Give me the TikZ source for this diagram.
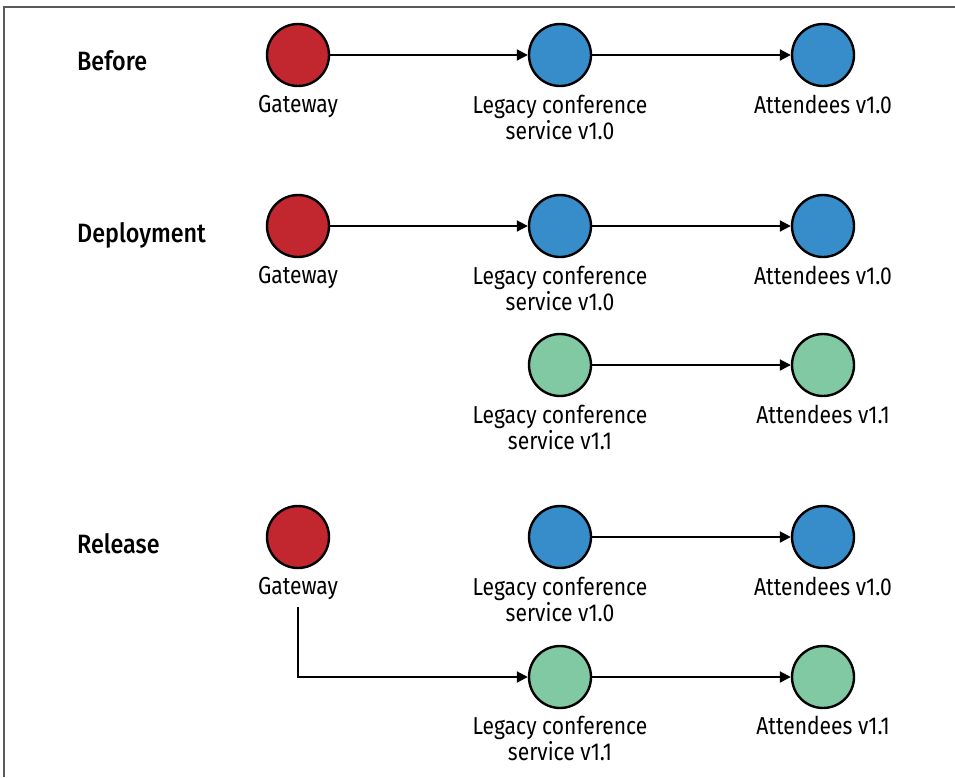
\documentclass[tikz,border=0pt]{standalone}
\usepackage{fontspec}
\setmainfont{Fira Sans}[FakeStretch=0.86]
\newfontfamily\headfont{Fira Sans Medium}[FakeStretch=0.88]
\usetikzlibrary{arrows.meta}
\definecolor{gwred}{RGB}{194,38,46}
\definecolor{oldblue}{RGB}{54,141,201}
\definecolor{newgreen}{RGB}{128,201,163}
\definecolor{framegray}{RGB}{90,90,90}
\begin{document}
\begin{tikzpicture}[x=1pt,y=-1pt,
  svc/.style={circle, draw=black, line width=2.4pt, minimum size=62pt, inner sep=0pt},
  gw/.style={svc, fill=gwred},
  v10/.style={svc, fill=oldblue},
  v11/.style={svc, fill=newgreen},
  lbl/.style={anchor=north, align=center, inner sep=0pt,
    font=\fontsize{24.5}{26}\selectfont},
  head/.style={anchor=base west, inner sep=0pt,
    font=\headfont\fontsize{26.5}{30}\selectfont},
  flow/.style={line width=2pt, -{Triangle[length=11pt,width=11pt]}}]
  \useasboundingbox (0,0) rectangle (955,777);
  % outer frame (top and left edges)
  \draw[framegray, line width=1.2pt] (4,777) -- (4,7) -- (955,7);

  % stage headings
  \node[head] (hBefore) at (77,70) {Before};
  \node[head] (hDeploy) at (77,242) {Deployment};
  \node[head] (hRelease) at (77,553) {Release};

  % Before
  \node[gw]  (g1) at (298,55) {};
  \node[v10] (l1) at (560,55) {};
  \node[v10] (a1) at (823,55) {};
  \node[lbl] (tg1) at (298,95) {Gateway};
  \node[lbl] (tl1) at (560,95) {Legacy conference\\service v1.0};
  \node[lbl] (ta1) at (823,95) {Attendees v1.0};
  \draw[flow] (g1) -- (l1);
  \draw[flow] (l1) -- (a1);

  % Deployment
  \node[gw]  (g2) at (298,226) {};
  \node[v10] (l2) at (560,226) {};
  \node[v10] (a2) at (823,226) {};
  \node[lbl] (tg2) at (298,266) {Gateway};
  \node[lbl] (tl2) at (560,266) {Legacy conference\\service v1.0};
  \node[lbl] (ta2) at (823,266) {Attendees v1.0};
  \draw[flow] (g2) -- (l2);
  \draw[flow] (l2) -- (a2);

  \node[v11] (l3) at (560,365) {};
  \node[v11] (a3) at (823,365) {};
  \node[lbl] (tl3) at (560,405) {Legacy conference\\service v1.1};
  \node[lbl] (ta3) at (823,405) {Attendees v1.1};
  \draw[flow] (l3) -- (a3);

  % Release
  \node[gw]  (g4) at (298,537) {};
  \node[v10] (l4) at (560,537) {};
  \node[v10] (a4) at (823,537) {};
  \node[lbl] (tg4) at (298,577) {Gateway};
  \node[lbl] (tl4) at (560,577) {Legacy conference\\service v1.0};
  \node[lbl] (ta4) at (823,577) {Attendees v1.0};
  \draw[flow] (l4) -- (a4);

  \node[v11] (l5) at (560,677) {};
  \node[v11] (a5) at (823,677) {};
  \node[lbl] (tl5) at (560,716) {Legacy conference\\service v1.1};
  \node[lbl] (ta5) at (823,716) {Attendees v1.1};
  \coordinate (gwout) at (298,607);
  \draw[flow, line join=miter] (gwout) |- (l5);
  \draw[flow] (l5) -- (a5);
\end{tikzpicture}
\end{document}
